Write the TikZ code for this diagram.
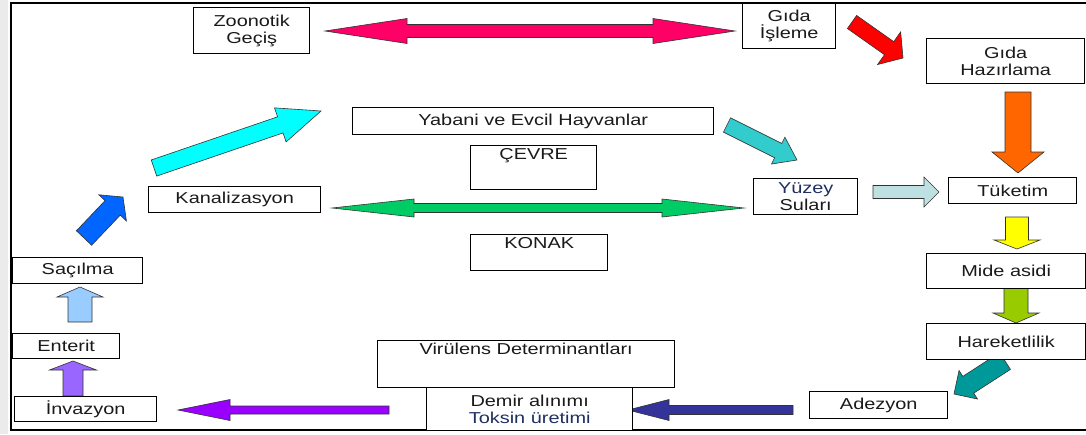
\documentclass[tikz,border=0pt]{standalone}
\usepackage{fontspec}
\setmainfont{Liberation Sans}[FakeStretch=1.26]
\usetikzlibrary{positioning}

\definecolor{pinkarr}{HTML}{FF0066}
\definecolor{redarr}{HTML}{FF0000}
\definecolor{orangearr}{HTML}{FF6600}
\definecolor{yellowarr}{HTML}{FFFF00}
\definecolor{olivearr}{HTML}{99CC00}
\definecolor{tealarr}{HTML}{009999}
\definecolor{navyarr}{HTML}{333399}
\definecolor{purplearr}{HTML}{9900FF}
\definecolor{violetarr}{HTML}{9966FF}
\definecolor{skyarr}{HTML}{99CCFF}
\definecolor{bluearr}{HTML}{0066FF}
\definecolor{cyanarr}{HTML}{00FFFF}
\definecolor{turqarr}{HTML}{33CCCC}
\definecolor{palearr}{HTML}{BFE0E2}
\definecolor{greenarr}{HTML}{00CC66}
\definecolor{boxtext}{HTML}{1A1A1A}
\definecolor{navytext}{HTML}{1F3060}

\newcommand{\boxfont}{\fontsize{15.8}{17}\selectfont}

% fill colour, tail x, tail y, tip x, tip y, shaft half width, head half width, head length
\newcommand{\blockarrow}[8]{%
  \pgfmathsetmacro{\arrang}{atan2(#3-#5,#4-#2)}%
  \pgfmathsetmacro{\arrlen}{veclen(#4-#2,#5-#3)}%
  \pgfmathsetmacro{\arrneck}{\arrlen-#8}%
  \begin{scope}[shift={(#2,#3)}, rotate=\arrang]
    \filldraw[arrowline, fill=#1] (0,-#6) -- (\arrneck,-#6) -- (\arrneck,-#7)
      -- (\arrlen,0) -- (\arrneck,#7) -- (\arrneck,#6) -- (0,#6) -- cycle;
  \end{scope}}

% fill colour, left tip, right tip, y, shaft half width, head half width, head length
\newcommand{\dblarrow}[7]{%
  \filldraw[arrowline, fill=#1] (#2,#4) -- (#2+#7,#4-#6) -- (#2+#7,#4-#5)
    -- (#3-#7,#4-#5) -- (#3-#7,#4-#6) -- (#3,#4) -- (#3-#7,#4+#6)
    -- (#3-#7,#4+#5) -- (#2+#7,#4+#5) -- (#2+#7,#4+#6) -- cycle;}

\tikzset{
  box/.style={draw, line width=1.4pt, fill=white, inner sep=0pt, align=center,
    anchor=north west, font=\boxfont, text=boxtext},
  toptext/.style={anchor=north, inner sep=3pt, font=\boxfont, text=boxtext},
  arrowline/.style={draw=black!80, line width=0.6pt, line join=miter}
}

\begin{document}
\begin{tikzpicture}[x=1pt, y=-1pt]
  \useasboundingbox (0,0) rectangle (1086,434);
  \fill[white] (0,0) rectangle (1086,434);
  \fill[black!8] (0,0) rectangle (8,434);
  \draw[line width=1.6pt] (11,3) rectangle (1095,430);

  % arrows
  \dblarrow{pinkarr}{325}{735}{31}{6.5}{12.5}{82}
  \dblarrow{greenarr}{332}{744}{208}{4.5}{9}{82}
  \blockarrow{redarr}{852}{22}{903}{58}{8}{20}{17}
  \blockarrow{orangearr}{1018}{92}{1018}{173}{13}{26}{21}
  \blockarrow{turqarr}{727}{125}{797}{160}{8}{15}{21}
  \blockarrow{palearr}{873}{192}{939}{192}{6.5}{15}{15}
  \blockarrow{yellowarr}{1017}{217}{1017}{249}{11.5}{23}{9}
  \blockarrow{olivearr}{1016}{288}{1016}{323}{12}{23}{10}
  \blockarrow{tealarr}{1005}{361}{954}{394}{10}{17}{17}
  \blockarrow{navyarr}{793}{410}{628}{410}{4.5}{10.5}{41}
  \blockarrow{purplearr}{389}{410}{178}{410}{4}{10.5}{52}
  \blockarrow{violetarr}{73}{396}{73}{361}{10}{23.5}{9}
  \blockarrow{skyarr}{80}{322}{80}{287}{12}{23}{10}
  \blockarrow{bluearr}{84}{238}{123}{197}{10.5}{19}{15}
  \blockarrow{cyanarr}{154}{168}{321}{111}{8.5}{18}{43}

  % boxes
  \node[box, minimum width=116pt, minimum height=46pt] (zoonotik) at (193,7) {Zoonotik\\Geçiş};
  \node[box, minimum width=93pt, minimum height=45pt] (isleme) at (742,3) {Gıda\\İşleme};
  \node[box, minimum width=158pt, minimum height=45pt] (hazirlama) at (926,38) {Gıda\\Hazırlama};
  \node[box, minimum width=361pt, minimum height=27pt] (hayvan) at (352,107) {Yabani ve Evcil Hayvanlar};
  \node[box, minimum width=126pt, minimum height=44pt,
    label={[toptext]north:ÇEVRE}] (cevre) at (470,145) {};
  \node[box, minimum width=172pt, minimum height=26pt] (kanal) at (148,186) {Kanalizasyon};
  \node[box, minimum width=137pt, minimum height=36pt,
    label={[toptext]north:KONAK}] (konak) at (470,234) {};
  \node[box, minimum width=104pt, minimum height=36pt] (yuzey) at (753,178)
    {\textcolor{navytext}{Yüzey}\\Suları};
  \node[box, minimum width=128pt, minimum height=26pt] (tuketim) at (948,177) {Tüketim};
  \node[box, minimum width=159pt, minimum height=35pt] (mide) at (926,253) {Mide asidi};
  \node[box, minimum width=159pt, minimum height=36pt] (hareket) at (926,323) {Hareketlilik};
  \node[box, minimum width=138pt, minimum height=27pt] (adezyon) at (809,391) {Adezyon};
  \node[box, minimum width=297pt, minimum height=47pt,
    label={[toptext]north:Virülens Determinantları}] (virulens) at (377,340) {};
  \node[box, minimum width=206pt, minimum height=43pt] (demir) at (426,387)
    {Demir alınımı\\\textcolor{navytext}{Toksin üretimi}};
  \node[box, minimum width=142pt, minimum height=25pt] (invazyon) at (14,396) {İnvazyon};
  \node[box, minimum width=107pt, minimum height=25pt] (enterit) at (12,333) {Enterit};
  \node[box, minimum width=130pt, minimum height=26pt] (sacilma) at (12,257) {Saçılma};

\end{tikzpicture}
\end{document}
